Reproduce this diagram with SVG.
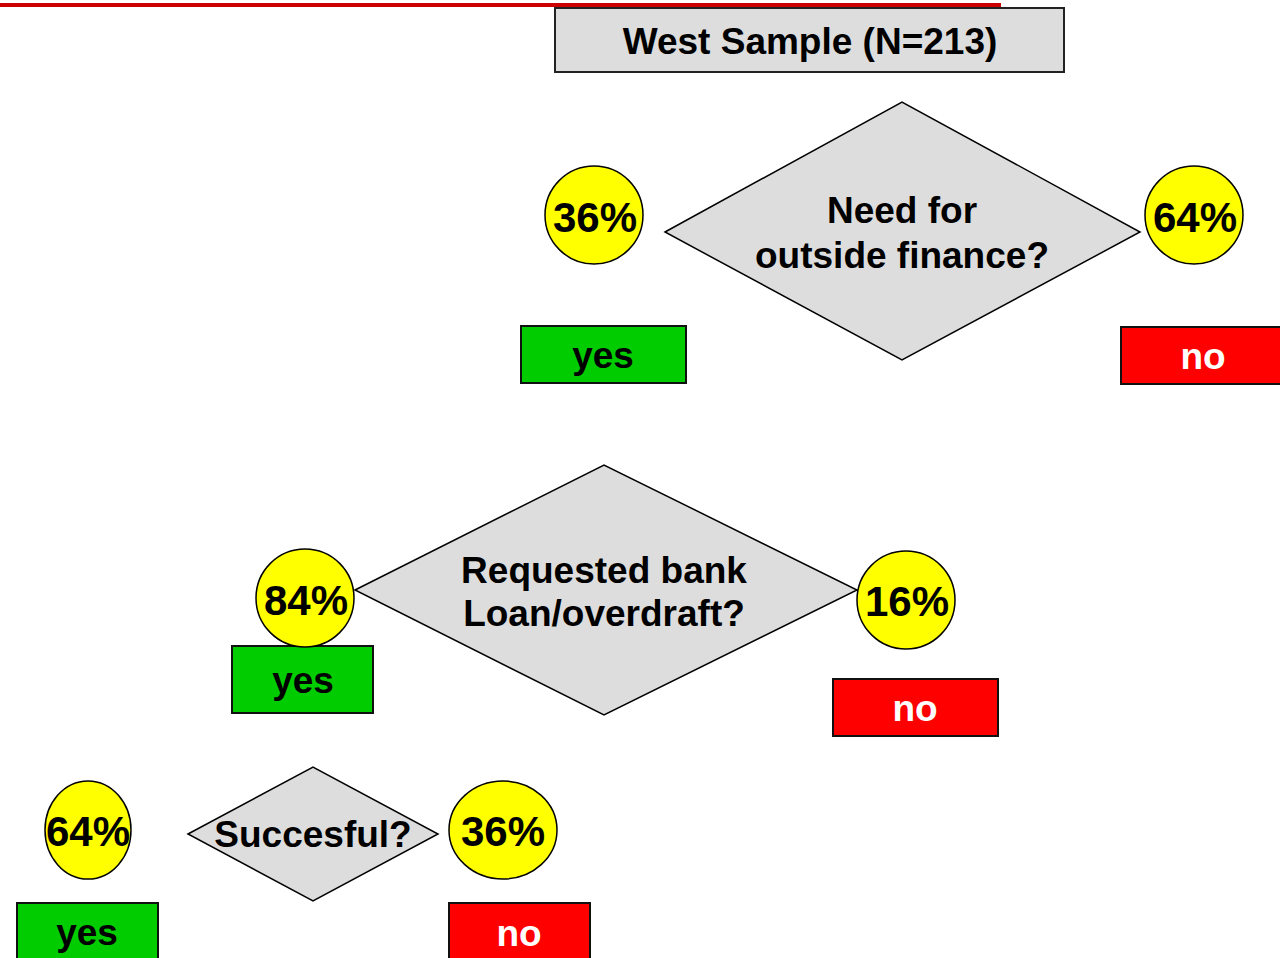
<svg xmlns="http://www.w3.org/2000/svg" width="1280" height="958" viewBox="0 0 1280 958">
<style>
text{font-family:"Liberation Sans",Arial,sans-serif;font-weight:bold;text-anchor:middle;fill:#000}
.t{font-size:37px}
.p{font-size:42px}
.w{fill:#fff}
.gray{fill:#dddddd;stroke:#222;stroke-width:2}
.dia{fill:#dddddd;stroke:#000;stroke-width:1.5}
.pc{fill:#ffff00;stroke:#000;stroke-width:1.5}
.yes{fill:#00cc00;stroke:#111;stroke-width:2}
.no{fill:#ff0000;stroke:#111;stroke-width:2}
</style>
<rect x="0" y="3" width="1001" height="4" fill="#cc0000"/>
<g id="connectors"></g>
<g id="title"><rect class="gray" x="555" y="8" width="509" height="64"/><text class="t" x="810" y="54">West Sample (N=213)</text></g>
<g id="q1"><polygon class="dia" points="665,232 902,102 1140,232 902,360"/><text class="t" x="902" y="223">Need for</text><text class="t" x="902" y="268">outside finance?</text></g>
<g id="p1yes"><circle class="pc" cx="594" cy="215" r="49"/><text class="p" x="595" y="232">36%</text></g>
<g id="p1no"><circle class="pc" cx="1194" cy="215" r="49"/><text class="p" x="1195" y="232">64%</text></g>
<g id="b1yes"><rect class="yes" x="521" y="326" width="165" height="57"/><text class="t" x="603" y="368">yes</text></g>
<g id="b1no"><rect class="no" x="1121" y="327" width="162" height="57"/><text class="t w" x="1203" y="369">no</text></g>
<g id="q2"><polygon class="dia" points="355,590 604,465 857,590 604,715"/><text class="t" x="604" y="583">Requested bank</text><text class="t" x="604" y="626">Loan/overdraft?</text></g>
<g id="b2yes"><rect class="yes" x="232" y="646" width="141" height="67"/><text class="t" x="303" y="693">yes</text></g>
<g id="p2yes"><circle class="pc" cx="305" cy="598" r="49"/><text class="p" x="306" y="615">84%</text></g>
<g id="p2no"><circle class="pc" cx="906" cy="600" r="49"/><text class="p" x="907" y="616">16%</text></g>
<g id="b2no"><rect class="no" x="833" y="679" width="165" height="57"/><text class="t w" x="915" y="721">no</text></g>
<g id="q3"><polygon class="dia" points="188,834 313,767 438,834 313,901"/><text class="t" x="313" y="847">Succesful?</text></g>
<g id="p3yes"><ellipse class="pc" cx="88" cy="830" rx="43" ry="49"/><text class="p" x="88" y="846">64%</text></g>
<g id="p3no"><ellipse class="pc" cx="503" cy="830" rx="54" ry="49"/><text class="p" x="503" y="846">36%</text></g>
<g id="b3yes"><rect class="yes" x="17" y="903" width="141" height="60"/><text class="t" x="87" y="945">yes</text></g>
<g id="b3no"><rect class="no" x="449" y="903" width="141" height="60"/><text class="t w" x="519" y="946">no</text></g>
</svg>
